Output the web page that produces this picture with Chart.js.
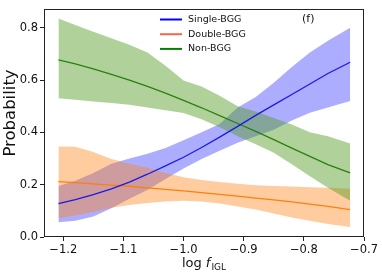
<!DOCTYPE html>
<html>
<head>
<meta charset="utf-8">
<script src="https://cdn.jsdelivr.net/npm/chart.js@4.4.1/dist/chart.umd.min.js"></script>
<style>
  body { margin: 0; background: #fff; }
  canvas { display: block; }
</style>
</head>
<body>
<canvas id="my-chart" width="382" height="278"></canvas>
<script>
// values
const xs = [-1.208, -1.18, -1.15, -1.12, -1.09, -1.06, -1.03, -1.0, -0.97, -0.94, -0.91, -0.88, -0.85, -0.82, -0.79, -0.76, -0.723];

const singleMid = [0.128, 0.143, 0.162, 0.184, 0.210, 0.240, 0.272, 0.305, 0.342, 0.382, 0.423, 0.465, 0.505, 0.545, 0.585, 0.625, 0.668];
const singleHi  = [0.195, 0.215, 0.245, 0.280, 0.300, 0.318, 0.340, 0.370, 0.400, 0.432, 0.495, 0.535, 0.590, 0.650, 0.705, 0.750, 0.800];
const singleLo  = [0.056, 0.062, 0.078, 0.110, 0.146, 0.180, 0.222, 0.262, 0.298, 0.330, 0.360, 0.385, 0.410, 0.445, 0.475, 0.495, 0.520];

const doubleMid = [0.212, 0.208, 0.203, 0.198, 0.194, 0.188, 0.182, 0.176, 0.170, 0.163, 0.156, 0.149, 0.142, 0.134, 0.126, 0.117, 0.105];
const doubleHi  = [0.346, 0.345, 0.325, 0.298, 0.280, 0.265, 0.245, 0.228, 0.218, 0.210, 0.204, 0.198, 0.195, 0.193, 0.190, 0.188, 0.184];
const doubleLo  = [0.071, 0.082, 0.096, 0.112, 0.122, 0.130, 0.136, 0.139, 0.136, 0.128, 0.117, 0.105, 0.090, 0.075, 0.062, 0.050, 0.038];

const nonMid = [0.677, 0.662, 0.643, 0.622, 0.600, 0.576, 0.550, 0.522, 0.494, 0.464, 0.434, 0.404, 0.372, 0.340, 0.308, 0.277, 0.245];
const nonHi  = [0.835, 0.810, 0.785, 0.760, 0.735, 0.705, 0.655, 0.598, 0.575, 0.540, 0.500, 0.480, 0.455, 0.430, 0.400, 0.385, 0.357];
const nonLo  = [0.530, 0.525, 0.518, 0.512, 0.506, 0.495, 0.485, 0.474, 0.450, 0.420, 0.385, 0.355, 0.322, 0.278, 0.232, 0.188, 0.139];

const xTicks = [-1.2, -1.1, -1.0, -0.9, -0.8, -0.7];
const yTicks = [0.0, 0.2, 0.4, 0.6, 0.8];

const legendLabels = ['Single-BGG', 'Double-BGG', 'Non-BGG'];
const legendColors = ['#0000ff', '#ff6347', '#008000'];

const FONT = '"DejaVu Sans", sans-serif';

function pts(ys) {
    return xs.map((x, i) => ({ x: x, y: ys[i] }));
}

function band(ys, color, order, fill) {
    return {
        data: pts(ys),
        borderWidth: 0,
        borderColor: 'rgba(0,0,0,0)',
        backgroundColor: color,
        fill: fill,
        order: order,
        pointRadius: 0
    };
}

function line(ys, color, order) {
    return {
        data: pts(ys),
        borderWidth: 1.3,
        borderColor: color,
        fill: false,
        order: order,
        pointRadius: 0
    };
}

const fmt = v => (v < -1e-9 ? '\u2212' : '') + Math.abs(v).toFixed(1);

// frame, titles, legend, panel tag
const extras = {
    id: 'extras',
    afterDraw(chart) {
        const ctx = chart.ctx;
        const a = chart.chartArea;
        ctx.save();
        ctx.strokeStyle = '#222';
        ctx.lineWidth = 1;
        ctx.strokeRect(Math.round(a.left) + 0.5, Math.round(a.top) + 0.5,
            Math.round(a.right - a.left) - 1, Math.round(a.bottom - a.top) - 1);

        ctx.fillStyle = '#111';
        // y title
        ctx.save();
        ctx.translate(10.5, 113);
        ctx.rotate(-Math.PI / 2);
        ctx.font = '16.5px ' + FONT;
        ctx.textAlign = 'center';
        ctx.textBaseline = 'middle';
        ctx.fillText('Probability', 0, 0);
        ctx.restore();

        // x title: log f_IGL
        ctx.textBaseline = 'alphabetic';
        ctx.textAlign = 'left';
        const f1 = '13px ' + FONT, f2 = 'italic 13px ' + FONT, f3 = '9px ' + FONT;
        ctx.font = f1; const w1 = ctx.measureText('log ').width;
        ctx.font = f2; const w2 = ctx.measureText('f').width;
        ctx.font = f3; const w3 = ctx.measureText('IGL').width;
        let x0 = (a.left + a.right) / 2 - (w1 + w2 + w3 + 1) / 2;
        const base = 267;
        ctx.font = f1; ctx.fillText('log ', x0, base);
        ctx.font = f2; ctx.fillText('f', x0 + w1, base);
        ctx.font = f3; ctx.fillText('IGL', x0 + w1 + w2 + 1, base + 3);

        // legend
        ctx.font = '9.5px ' + FONT;
        ctx.textBaseline = 'middle';
        legendLabels.forEach((lab, i) => {
            const y = 19.5 + i * 14.7;
            ctx.strokeStyle = legendColors[i];
            ctx.lineWidth = 2;
            ctx.beginPath();
            ctx.moveTo(160, y);
            ctx.lineTo(182, y);
            ctx.stroke();
            ctx.fillStyle = '#111';
            ctx.fillText(lab, 188, y);
        });

        ctx.font = '11px ' + FONT;
        ctx.fillText('(f)', 302, 19);
        ctx.restore();
    }
};

const ctx = document.getElementById('my-chart').getContext('2d');

const chart = new Chart(ctx, {
    type: 'line',
    data: {
        datasets: [
            line(singleMid, '#1a1ae6', 1),
            line(doubleMid, '#ff7f0e', 2),
            line(nonMid, '#2a8010', 3),
            band(singleHi, 'rgba(0,0,255,0.32)', 10, '+1'),
            band(singleLo, 'rgba(0,0,0,0)', 10, false),
            band(doubleHi, 'rgba(255,127,14,0.4)', 9, '+1'),
            band(doubleLo, 'rgba(0,0,0,0)', 9, false),
            band(nonHi, 'rgba(80,155,30,0.45)', 8, '+1'),
            band(nonLo, 'rgba(0,0,0,0)', 8, false)
        ]
    },
    options: {
        responsive: false,
        animation: false,
        layout: { padding: { top: 5, right: 18, left: 0, bottom: 0 } },
        elements: { line: { tension: 0 }, point: { radius: 0 } },
        plugins: {
            legend: { display: false },
            tooltip: { enabled: false }
        },
        scales: {
            x: {
                type: 'linear',
                min: -1.232,
                max: -0.7,
                afterBuildTicks: s => { s.ticks = xTicks.map(v => ({ value: v })); },
                afterFit: s => { s.height = 41; },
                ticks: {
                    callback: fmt,
                    font: { family: FONT, size: 11.5 },
                    color: '#111',
                    padding: 2,
                    maxRotation: 0,
                    autoSkip: false
                },
                grid: { display: true, drawOnChartArea: false, tickLength: 4, color: '#222' },
                border: { display: false }
            },
            y: {
                type: 'linear',
                min: 0,
                max: 0.872,
                afterBuildTicks: s => { s.ticks = yTicks.map(v => ({ value: v })); },
                afterFit: s => { s.width = 44; },
                ticks: {
                    callback: fmt,
                    font: { family: FONT, size: 11.5 },
                    color: '#111',
                    padding: 2,
                    autoSkip: false
                },
                grid: { display: true, drawOnChartArea: false, tickLength: 4, color: '#222' },
                border: { display: false }
            }
        }
    },
    plugins: [extras]
});
</script>
</body>
</html>
